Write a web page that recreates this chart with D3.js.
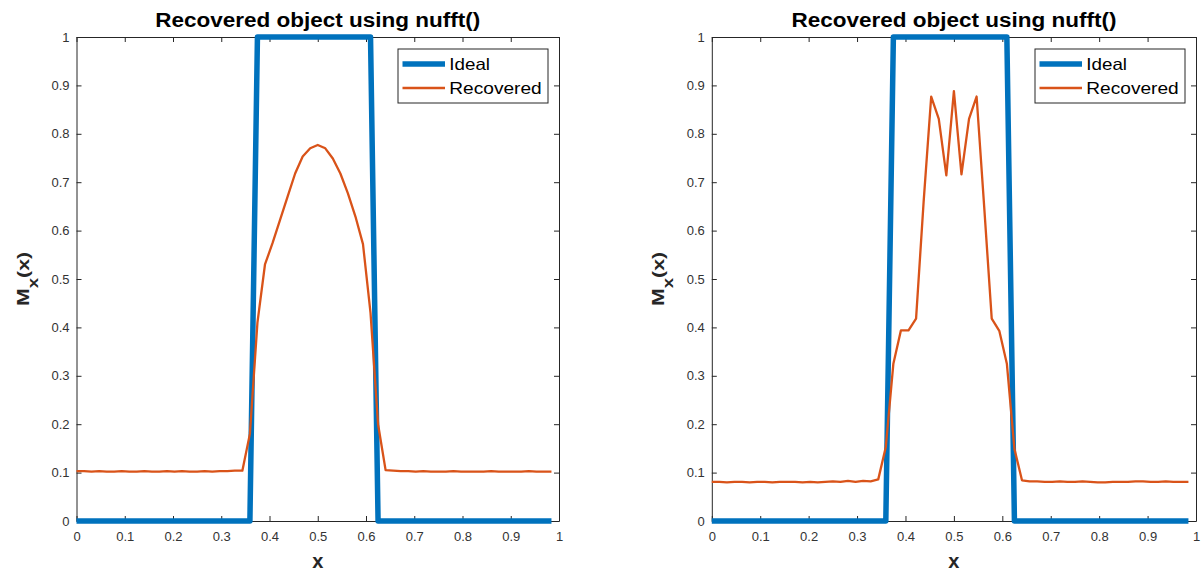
<!DOCTYPE html>
<html>
<head>
<meta charset="utf-8">
<script src="https://cdn.jsdelivr.net/npm/d3@7"></script>
<style>
body { margin: 0; background: #fff; }
svg text { font-family: "Liberation Sans", Arial, sans-serif; }
</style>
</head>
<body>
<svg id="chart" width="1203" height="571"></svg>
<script>
// sample positions (64 samples on [0,1))
var xVals = [0, 0.015625, 0.03125, 0.046875, 0.0625, 0.078125, 0.09375, 0.109375,
  0.125, 0.140625, 0.15625, 0.171875, 0.1875, 0.203125, 0.21875, 0.234375,
  0.25, 0.265625, 0.28125, 0.296875, 0.3125, 0.328125, 0.34375, 0.359375,
  0.375, 0.390625, 0.40625, 0.421875, 0.4375, 0.453125, 0.46875, 0.484375,
  0.5, 0.515625, 0.53125, 0.546875, 0.5625, 0.578125, 0.59375, 0.609375,
  0.625, 0.640625, 0.65625, 0.671875, 0.6875, 0.703125, 0.71875, 0.734375,
  0.75, 0.765625, 0.78125, 0.796875, 0.8125, 0.828125, 0.84375, 0.859375,
  0.875, 0.890625, 0.90625, 0.921875, 0.9375, 0.953125, 0.96875, 0.984375];

var idealVals = [0,0,0,0,0,0,0,0, 0,0,0,0,0,0,0,0, 0,0,0,0,0,0,0,0,
  1,1,1,1,1,1,1,1, 1,1,1,1,1,1,1,1,
  0,0,0,0,0,0,0,0, 0,0,0,0,0,0,0,0, 0,0,0,0,0,0,0,0];

// left panel: recovered
var recLeft = [0.103,0.103,0.102,0.103,0.102,0.102,0.103,0.102,
  0.102,0.103,0.102,0.102,0.103,0.102,0.103,0.102,
  0.102,0.103,0.102,0.103,0.103,0.104,0.104,0.18,
  0.41,0.53,0.574,0.622,0.670,0.718,0.753,0.770,
  0.777,0.770,0.749,0.718,0.677,0.629,0.572,0.43,
  0.20,0.105,0.104,0.103,0.103,0.102,0.103,0.102,
  0.102,0.102,0.103,0.102,0.102,0.102,0.102,0.103,
  0.102,0.102,0.102,0.102,0.103,0.102,0.102,0.102];

// right panel: recovered
var recRight = [0.081,0.081,0.080,0.081,0.081,0.080,0.081,0.081,
  0.080,0.081,0.081,0.081,0.080,0.081,0.080,0.081,
  0.082,0.081,0.083,0.081,0.083,0.082,0.086,0.153,
  0.325,0.394,0.394,0.418,0.66,0.877,0.831,0.714,
  0.888,0.716,0.831,0.877,0.65,0.418,0.393,0.325,
  0.149,0.084,0.082,0.082,0.081,0.081,0.082,0.081,
  0.081,0.082,0.081,0.080,0.080,0.081,0.081,0.081,
  0.082,0.082,0.081,0.081,0.082,0.081,0.081,0.081];

var tickVals = [0, 0.1, 0.2, 0.3, 0.4, 0.5, 0.6, 0.7, 0.8, 0.9, 1];
var tickLabels = ["0", "0.1", "0.2", "0.3", "0.4", "0.5", "0.6", "0.7", "0.8", "0.9", "1"];
var keys = ["Ideal", "Recovered"];
var colours = ["#0072bd", "#d95319"];
var titleText = "Recovered object using nufft()";

var svg = d3.select("#chart");
var yTop = 37, yBottom = 521;
var axisCol = "#262626";

var panels = [
  {x0: 76.5, x1: 559, rec: recLeft, ylabX: 28.5},
  {x0: 711.8, x1: 1196, rec: recRight, ylabX: 664}
];

function fmt(d) { return tickLabels[tickVals.indexOf(d)]; }

function styleAxis(a, showText) {
  a.select(".domain").attr("stroke", axisCol).attr("stroke-width", 1);
  a.selectAll(".tick line").attr("stroke", axisCol).attr("stroke-width", 1);
  a.selectAll(".tick text")
    .attr("fill", "#333")
    .style("font-size", "13px")
    .style("font-family", "'Liberation Sans', Arial, sans-serif")
    .style("display", showText ? null : "none");
}

panels.forEach(function(p) {
  var x = d3.scaleLinear().domain([0, 1]).range([p.x0, p.x1]);
  var y = d3.scaleLinear().domain([0, 1]).range([yBottom, yTop]);
  var g = svg.append("g");
  var cx = (p.x0 + p.x1) / 2;

  // axes, ticks pointing inward on all four sides
  g.append("g").attr("transform", "translate(0," + yBottom + ")")
    .call(d3.axisBottom(x).tickValues(tickVals).tickFormat(fmt).tickSizeInner(-5).tickSizeOuter(0).tickPadding(11))
    .call(styleAxis, true);
  g.append("g").attr("transform", "translate(0," + yTop + ")")
    .call(d3.axisTop(x).tickValues(tickVals).tickFormat("").tickSizeInner(-5).tickSizeOuter(0))
    .call(styleAxis, false);
  g.append("g").attr("transform", "translate(" + p.x0 + ",0)")
    .call(d3.axisLeft(y).tickValues(tickVals).tickFormat(fmt).tickSizeInner(-5).tickSizeOuter(0).tickPadding(7))
    .call(styleAxis, true);
  g.append("g").attr("transform", "translate(" + p.x1 + ",0)")
    .call(d3.axisRight(y).tickValues(tickVals).tickFormat("").tickSizeInner(-5).tickSizeOuter(0))
    .call(styleAxis, false);

  var line = d3.line().x(function(d) { return x(d[0]); }).y(function(d) { return y(d[1]); });

  g.append("path")
    .datum(d3.zip(xVals, idealVals))
    .attr("d", line)
    .attr("fill", "none")
    .attr("stroke", colours[0])
    .attr("stroke-width", 5.5)
    .attr("stroke-linejoin", "round");

  g.append("path")
    .datum(d3.zip(xVals, p.rec))
    .attr("d", line)
    .attr("fill", "none")
    .attr("stroke", colours[1])
    .attr("stroke-width", 2.3)
    .attr("stroke-linejoin", "round");

  // title
  g.append("text")
    .attr("x", cx).attr("y", 27)
    .attr("text-anchor", "middle")
    .attr("font-weight", "bold")
    .attr("font-size", 20)
    .attr("textLength", 325)
    .attr("lengthAdjust", "spacingAndGlyphs")
    .attr("fill", "#000")
    .text(titleText);

  // x label
  g.append("text")
    .attr("x", cx).attr("y", 568)
    .attr("text-anchor", "middle")
    .attr("font-weight", "bold")
    .attr("font-size", 20)
    .attr("fill", axisCol)
    .text("x");

  // y label M_x(x)
  var yl = g.append("text")
    .attr("transform", "translate(" + p.ylabX + "," + ((yTop + yBottom) / 2) + ") rotate(-90) scale(1.25,1)")
    .attr("text-anchor", "middle")
    .attr("font-weight", "bold")
    .attr("font-size", 17)
    .attr("fill", axisCol);
  yl.append("tspan").text("M");
  yl.append("tspan").attr("font-size", 15).attr("dy", 9).text("x");
  yl.append("tspan").attr("dy", -9).text("(x)");

  // legend
  var lx = p.x1 - 161, ly = 49;
  var legend = g.append("g");
  legend.append("rect")
    .attr("x", lx).attr("y", ly)
    .attr("width", 150).attr("height", 54)
    .attr("fill", "#fff")
    .attr("stroke", axisCol)
    .attr("stroke-width", 1);
  var rowY = [64, 88];
  var textW = [40.7, 92.4];
  legend.selectAll("line")
    .data(keys)
    .enter()
    .append("line")
      .attr("x1", lx + 4.5)
      .attr("x2", lx + 47)
      .attr("y1", function(d, i) { return rowY[i]; })
      .attr("y2", function(d, i) { return rowY[i]; })
      .attr("stroke", function(d, i) { return colours[i]; })
      .attr("stroke-width", function(d, i) { return i === 0 ? 5.5 : 2.3; });
  legend.selectAll("text")
    .data(keys)
    .enter()
    .append("text")
      .attr("x", lx + 51.3)
      .attr("y", function(d, i) { return rowY[i] + 6; })
      .attr("font-size", 16.5)
      .attr("textLength", function(d, i) { return textW[i]; })
      .attr("lengthAdjust", "spacingAndGlyphs")
      .attr("fill", "#000")
      .text(function(d) { return d; });
});
</script>
</body>
</html>
